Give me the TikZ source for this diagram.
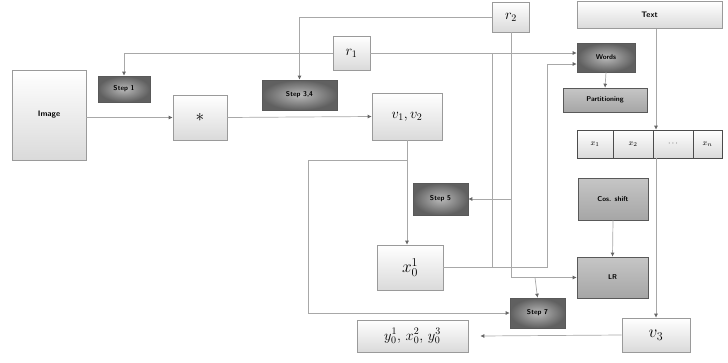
\documentclass[tikz,border=0pt]{standalone}
\usetikzlibrary{arrows.meta}
\definecolor{ln}{HTML}{A8A8A8}
\definecolor{bd}{HTML}{9A9A9A}
\definecolor{lt}{HTML}{DADADA}
\tikzset{
  sz/.style 2 args={minimum width=#1pt, minimum height=#2pt, inner sep=0pt},
  lbox/.style={draw=bd, line width=0.6pt, top color=white, bottom color=lt, font=\sffamily\bfseries\footnotesize},
  mbox/.style={draw=bd, line width=0.6pt, top color=white, bottom color=lt},
  dbox/.style={draw=gray!70!black, line width=0.6pt, inner color=gray!55, outer color=gray!75!black, font=\sffamily\bfseries\scriptsize},
  gbox/.style={draw=gray!70!black, line width=0.6pt, top color=gray!45, bottom color=gray!70, font=\sffamily\bfseries\scriptsize},
  cell/.style={draw=gray!60!black, line width=0.6pt, top color=white, bottom color=lt, font=\footnotesize},
  ln/.style={draw=ln, line width=0.7pt},
  arr/.style={ln, arrows={-{Latex[length=4pt,width=4pt,color=gray!80!black]}}},
}
\begin{document}
\begin{tikzpicture}[x=1pt,y=-1pt]
\useasboundingbox (0,0) rectangle (728,362);
% nodes
\node[lbox, sz={74}{90}] (img) at (49,115) {Image};
\node[dbox, sz={52}{26}] (step1) at (124,89) {Step 1};
\node[mbox, sz={54}{45}] (star) at (200,117.5) {\LARGE$\ast$};
\node[dbox, sz={75}{30}] (step34) at (299.5,95) {Step 3,4};
\node[mbox, sz={37}{34}] (r1) at (351.5,53) {\Large$r_1$};
\node[mbox, sz={37}{30}] (r2) at (511,17) {\Large$r_2$};
\node[mbox, sz={70}{47}] (v12) at (407,116.5) {\Large$v_1, v_2$};
\node[dbox, sz={55}{32}] (step5) at (440.5,199) {Step 5};
\node[mbox, sz={66}{45}] (x01) at (410,267.5) {\LARGE$x_0^1$};
\node[mbox, sz={111}{32}] (ybox) at (412.5,336) {\Large$y^{1}_{0},\,x^{2}_{0},\,y^{3}_{0}$};
\node[dbox, sz={55}{30}] (step7) at (537.5,313) {Step 7};
\node[lbox, sz={145}{27}] (text) at (649.5,15) {Text};
\node[dbox, sz={58}{29}] (words) at (606,57.5) {Words};
\node[gbox, sz={84}{24}] (part) at (605,100) {Partitioning};
\node[cell, sz={36}{28}] (c1) at (595,144) {$x_1$};
\node[cell, sz={40}{28}] (c2) at (633,144) {$x_2$};
\node[cell, sz={40}{28}] (c3) at (673,144) {$\cdots$};
\node[cell, sz={29}{28}] (c4) at (707.5,144) {$x_n$};
\node[gbox, sz={70}{42}] (cos) at (613,199) {Cos. shift};
\node[gbox, sz={71}{41}] (lr) at (612.5,277.5) {LR};
\node[mbox, sz={68}{34}] (v3) at (656,335) {\LARGE$v_3$};
% helper coordinates
\coordinate (wj) at (547,64);
\coordinate (rb) at (492,267.5);
\coordinate (s5) at (511,199);
\coordinate (s7) at (535,277.5);
\coordinate (vl) at (308,160);
% connectors
\draw[arr] (img.east |- star.west) -- (star.west);
\draw[arr] (r1.west) -| (step1.north);
\draw[arr] (r1.east) -- (r1.east -| words.west);
\draw[arr] (r2.west) -| (step34.north);
\draw[arr] (star.east) -- (v12.west);
\draw[arr] (v12.south) -- (v12.south |- x01.north);
\draw[arr] (x01.east) -| (wj) -- (wj -| words.west);
\draw[ln] (r1.east -| rb) -- (rb);
\draw[arr] (r2.south) |- (lr.west);
\draw[arr] (s5) -- (step5.east);
\draw[arr] (s7) -- (step7.north);
\draw[arr] (v12.south |- vl) -- (vl) |- (step7.west);
\draw[arr] (words.south) -- (part.north);
\draw[arr] (cos.south) -- (lr.north);
\draw[arr] (text.south -| v3.north) -- (c2.north -| v3.north);
\draw[arr] (c2.south -| v3.north) -- (v3.north);
\draw[arr] (v3.west) -- ([xshift=12pt]ybox.east);
\end{tikzpicture}
\end{document}
